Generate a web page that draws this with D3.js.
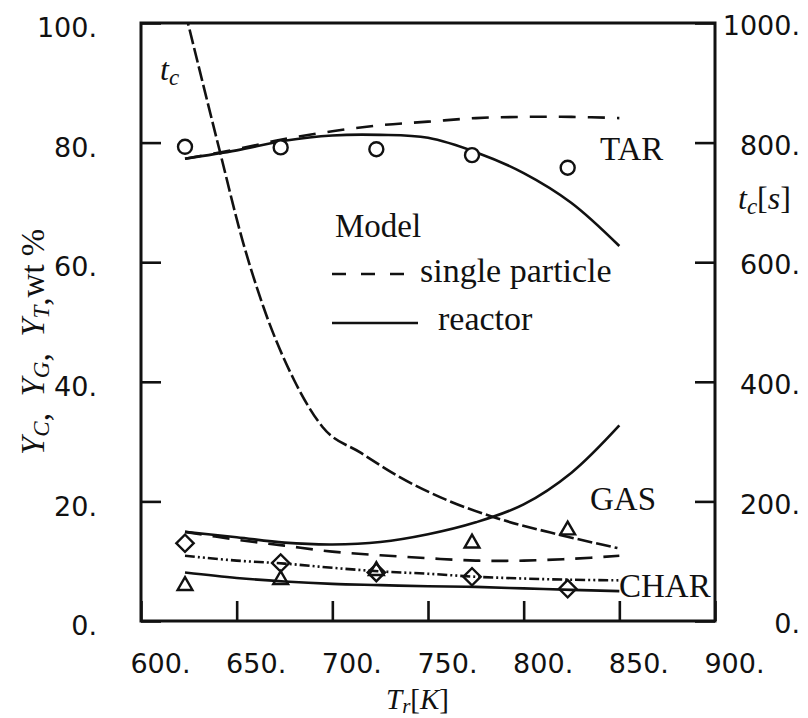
<!DOCTYPE html>
<html>
<head>
<meta charset="utf-8">
<script src="https://cdn.jsdelivr.net/npm/d3@7"></script>
<style>
  html, body { margin: 0; padding: 0; background: #fff; }
  svg { display: block; }
  .tick text { font-family: "DejaVu Sans", "Liberation Sans", Arial, sans-serif; font-size: 27px; fill: #111; }
  .serif { font-family: "Liberation Serif", "Times New Roman", serif; fill: #111; }
</style>
</head>
<body>
<svg id="chart" width="808" height="718"></svg>
<script>
// ---------- data ----------
const xTicks = [600, 650, 700, 750, 800, 850, 900];
const yLeftTicks = [0, 20, 40, 60, 80, 100];
const yRightTicks = [0, 200, 400, 600, 800, 1000];

// experimental points (reactor temperature, K)
const tExp = [623, 673, 723, 773, 823];
const tarExp = [79.3, 79.2, 78.9, 77.9, 75.8];      // circles
const diamondExp = [13.0, 9.7, 8.1, 7.4, 5.4];      // diamonds
const triangleExp = [5.9, 6.9, 8.4, 13.0, 15.2];    // triangles

// model curves
const tModel = [623, 650, 675, 700, 725, 750, 775, 800, 825, 850];
const tarReactor = [77.3, 78.7, 80.3, 81.2, 81.3, 80.8, 78.4, 74.9, 69.9, 62.7];
const tarSingle  = [77.3, 78.9, 80.6, 81.9, 82.9, 83.5, 84.1, 84.3, 84.3, 84.1];
const gasReactor = [14.9, 14.0, 13.1, 12.8, 13.2, 14.5, 16.5, 19.5, 24.8, 32.7];
const gasSingle  = [14.9, 13.6, 12.6, 11.6, 11.0, 10.5, 10.1, 10.1, 10.4, 10.9];
const charSingle = [10.9, 10.1, 9.6, 8.9, 8.3, 7.9, 7.4, 7.1, 6.9, 6.8];
const charReactor= [8.1, 7.2, 6.6, 6.2, 6.0, 5.8, 5.7, 5.45, 5.2, 5.0];

// conversion time t_c [s] (right axis)
const tTc = [623, 641, 653, 664, 680, 695, 715, 735, 760, 784, 819, 849];
const tcVals = [1020, 788, 637, 525, 403, 324, 281, 241, 202, 174, 144, 122];

// ---------- layout ----------
const svg = d3.select("#chart");
const x = d3.scaleLinear().domain([600, 900]).range([141, 715]);
const yL = d3.scaleLinear().domain([0, 100]).range([621, 23]);
const yR = d3.scaleLinear().domain([0, 1000]).range([621, 23]);

svg.append("defs").append("clipPath").attr("id", "plotclip")
  .append("rect").attr("x", x(600)).attr("y", yL(100))
  .attr("width", x(900) - x(600)).attr("height", yL(0) - yL(100));

// axes
const gx = svg.append("g").attr("transform", `translate(0,${yL(0)})`)
  .call(d3.axisBottom(x).tickValues(xTicks).tickSize(-20).tickFormat(d => d + "."));
gx.selectAll("text").attr("y", 42).attr("dy", "0.36em").attr("dx", 19);

const gl = svg.append("g").attr("transform", `translate(${x(600)},0)`)
  .call(d3.axisLeft(yL).tickValues(yLeftTicks).tickSize(-20).tickFormat(d => d + "."));
gl.selectAll("text").attr("x", -44).attr("dy", "0.36em").attr("y", 4);

const gr = svg.append("g").attr("transform", `translate(${x(900)},0)`)
  .call(d3.axisRight(yR).tickValues(yRightTicks).tickSize(-20).tickFormat(d => d + "."));
gr.selectAll("text").attr("x", 85).attr("text-anchor", "end").attr("dy", "0.36em").attr("y", 2);

[gx, gl, gr].forEach(g => {
  g.select(".domain").remove();
  g.selectAll(".tick line").attr("stroke", "#111").attr("stroke-width", 2.6);
});

// frame
svg.append("rect").attr("x", x(600)).attr("y", yL(100))
  .attr("width", x(900) - x(600)).attr("height", yL(0) - yL(100))
  .attr("fill", "none").attr("stroke", "#111").attr("stroke-width", 3);

// ---------- curves ----------
const plot = svg.append("g").attr("clip-path", "url(#plotclip)");
const lineL = d3.line().x(d => x(d[0])).y(d => yL(d[1])).curve(d3.curveCatmullRom.alpha(0.5));
const lineR = d3.line().x(d => x(d[0])).y(d => yR(d[1])).curve(d3.curveMonotoneX);

function drawL(vals, dash) {
  plot.append("path").datum(d3.zip(tModel, vals)).attr("d", lineL)
    .attr("fill", "none").attr("stroke", "#111").attr("stroke-width", 2.6)
    .attr("stroke-dasharray", dash || null);
}
drawL(tarReactor);
drawL(tarSingle, "17,12");
drawL(gasReactor);
drawL(gasSingle, "17,11");
drawL(charSingle, "10,3,2,3,2,3");
drawL(charReactor);

plot.append("path").datum(d3.zip(tTc, tcVals)).attr("d", lineR)
  .attr("fill", "none").attr("stroke", "#111").attr("stroke-width", 2.6)
  .attr("stroke-dasharray", "15,4");

// ---------- markers ----------
const mk = svg.append("g").attr("fill", "none").attr("stroke", "#111").attr("stroke-width", 2.4);
mk.selectAll("circle.tar").data(d3.zip(tExp, tarExp)).join("circle")
  .attr("cx", d => x(d[0])).attr("cy", d => yL(d[1])).attr("r", 7).attr("fill", "#fff");
const diamond = d3.symbol().type(d3.symbolSquare).size(150);
mk.selectAll("path.dia").data(d3.zip(tExp, diamondExp)).join("path")
  .attr("d", diamond)
  .attr("transform", d => `translate(${x(d[0])},${yL(d[1])}) rotate(45)`);
const tri = d3.symbol().type(d3.symbolTriangle).size(95);
mk.selectAll("path.tri").data(d3.zip(tExp, triangleExp)).join("path")
  .attr("d", tri)
  .attr("transform", d => `translate(${x(d[0])},${yL(d[1])})`);

// ---------- labels ----------
function label(txt, px, py, size) {
  svg.append("text").attr("class", "serif").attr("x", px).attr("y", py)
    .attr("font-size", size || 33).text(txt);
}
label("TAR", 600, 160);
label("GAS", 590, 510);
label("CHAR", 619, 597);
label("Model", 335, 237, 33);
label("single particle", 420, 282, 34);
label("reactor", 438, 330, 34);

// legend samples
svg.append("line").attr("x1", 332).attr("x2", 407).attr("y1", 274).attr("y2", 274)
  .attr("stroke", "#111").attr("stroke-width", 2.6).attr("stroke-dasharray", "14,15");
svg.append("line").attr("x1", 332).attr("x2", 418).attr("y1", 323).attr("y2", 323)
  .attr("stroke", "#111").attr("stroke-width", 2.6);

// t_c labels
const tcIn = svg.append("text").attr("class", "serif").attr("x", 160).attr("y", 80).attr("font-size", 32);
tcIn.append("tspan").attr("font-style", "italic").text("t");
tcIn.append("tspan").attr("font-style", "italic").attr("font-size", 23).attr("dy", 5).text("c");

const tcR = svg.append("text").attr("class", "serif").attr("x", 738).attr("y", 209).attr("font-size", 32);
tcR.append("tspan").attr("font-style", "italic").text("t");
tcR.append("tspan").attr("font-style", "italic").attr("font-size", 23).attr("dy", 5).text("c");
tcR.append("tspan").attr("dy", -5).text("[");
tcR.append("tspan").attr("font-style", "italic").text("s");
tcR.append("tspan").text("]");

// x-axis title
const xt = svg.append("text").attr("class", "serif").attr("x", 386).attr("y", 709).attr("font-size", 29);
xt.append("tspan").attr("font-style", "italic").text("T");
xt.append("tspan").attr("font-style", "italic").attr("font-size", 21).attr("dy", 4).text("r");
xt.append("tspan").attr("dy", -4).text("[");
xt.append("tspan").attr("font-style", "italic").text("K");
xt.append("tspan").text("]");

// y-axis title (rotated)
const yt = svg.append("text").attr("class", "serif").attr("font-size", 33)
  .attr("transform", "translate(44,455) rotate(-90)");
const parts = [["Y", "C"], ["Y", "G"], ["Y", "T"]];
parts.forEach((p, i) => {
  yt.append("tspan").attr("font-style", "italic").attr("dy", i === 0 ? 0 : -5).text(p[0]);
  yt.append("tspan").attr("font-style", "italic").attr("font-size", 23).attr("dy", 5).text(p[1]);
  yt.append("tspan").text(i < 2 ? ",\u00A0\u00A0" : ",");
});
yt.append("tspan").attr("dy", -5).text("wt\u00A0%");
</script>
</body>
</html>
